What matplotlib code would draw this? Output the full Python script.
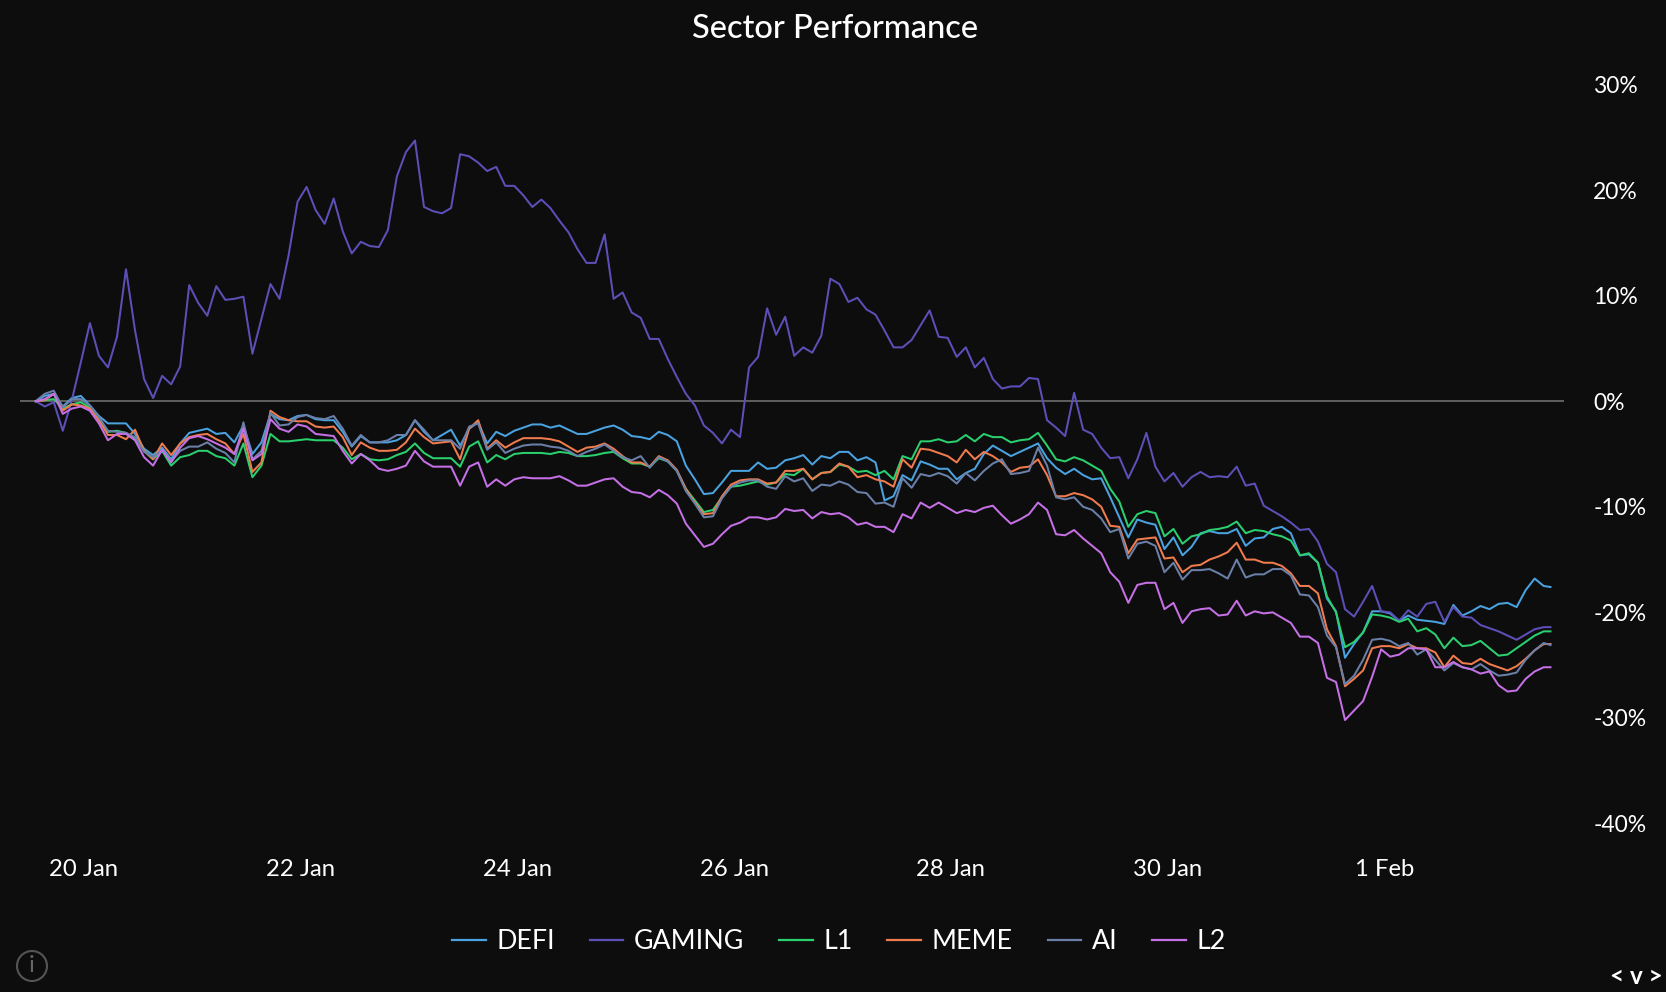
#!/usr/bin/env python3
"""Sector Performance: six crypto sectors, percent change, 2-hourly points."""

import matplotlib
matplotlib.use('Agg')
import matplotlib.pyplot as plt
from matplotlib.patches import Circle
import numpy as np

plt.rcParams['font.family'] = ['Lato', 'DejaVu Sans']

DEFI = [0, 0.5, 0.7, -0.5, 0.3, 0.5, -0.4, -1.4, -2.1, -2.1, -2.1, -3.1, -4.5, -5.1, -4.4, -5.5, -4, -3, -2.8, -2.6,
        -3.1, -3, -3.9, -2.3, -5, -3.9, -1.2, -1.7, -1.8, -1.4, -1.3, -1.7, -1.8, -1.8, -2.9, -4.3, -3.3, -3.9, -3.9, -3.9,
        -3.7, -3.2, -1.8, -2.9, -3.7, -3.2, -2.7, -4.2, -2.6, -2, -4, -2.9, -3.3, -2.8, -2.5, -2.2, -2.2, -2.5, -2.3, -2.7,
        -3.1, -3.1, -2.8, -2.5, -2.3, -2.7, -3.3, -3.4, -3.6, -2.9, -3.2, -3.8, -6.1, -7.4, -8.8, -8.7, -7.7, -6.6, -6.6, -6.6,
        -5.8, -6.4, -6.3, -5.6, -5.4, -5.1, -6, -5.2, -5.4, -4.8, -4.8, -5.6, -5.3, -5.8, -9.4, -9, -7, -7.5, -5.7, -6,
        -6.4, -6.4, -7.4, -6.8, -6.4, -5, -4.2, -4.7, -5.2, -4.8, -4.4, -4, -5.4, -6.3, -6.9, -6.4, -7, -7.4, -7.3, -9.1,
        -11, -12.9, -11.2, -11.5, -11.7, -14, -12.9, -14.6, -13.8, -12.5, -12.3, -12.5, -12.5, -12.1, -13.7, -13, -12.9, -12.1, -11.9, -12.5,
        -14.6, -14.5, -15.3, -18.7, -19.9, -24.3, -23, -21.9, -19.9, -19.9, -20.1, -20.8, -20.3, -20.7, -20.8, -20.9, -21.1, -19.3, -20.3, -19.9,
        -19.4, -19.7, -19.2, -19.1, -19.5, -17.9, -16.8, -17.5, -17.6]

GAMING = [0, -0.5, -0.1, -2.8, 0.1, 3.7, 7.4, 4.3, 3.2, 6.1, 12.5, 6.7, 2.1, 0.3, 2.4, 1.6, 3.3, 11, 9.3, 8.1,
          10.9, 9.6, 9.7, 9.9, 4.5, 7.8, 11.1, 9.7, 13.8, 18.9, 20.3, 18.1, 16.8, 19.2, 16.1, 14, 15.1, 14.7, 14.6, 16.2,
          21.3, 23.6, 24.7, 18.4, 18, 17.8, 18.3, 23.4, 23.2, 22.6, 21.8, 22.2, 20.4, 20.4, 19.5, 18.4, 19.1, 18.3, 17.1, 16,
          14.4, 13.1, 13.1, 15.8, 9.7, 10.3, 8.4, 7.9, 5.9, 5.9, 4, 2.3, 0.7, -0.4, -2.3, -3, -4, -2.7, -3.4, 3.2,
          4.2, 8.8, 6.3, 8, 4.3, 5.1, 4.6, 6.2, 11.6, 11.1, 9.4, 9.8, 8.7, 8.2, 6.7, 5.1, 5.1, 5.8, 7.2, 8.6,
          6.1, 6, 4.2, 5.1, 3.2, 4.1, 2.1, 1.2, 1.4, 1.4, 2.2, 2.1, -1.8, -2.5, -3.3, 0.8, -2.7, -3.1, -4.4, -5.4,
          -5.3, -7.3, -5.5, -3, -6.2, -7.6, -6.8, -8.1, -7.2, -6.7, -7.2, -7.1, -7.2, -6.2, -8, -7.8, -9.9, -10.4, -10.9, -11.5,
          -12.2, -12.1, -13.3, -15.4, -16.2, -19.7, -20.4, -19, -17.5, -19.9, -20, -20.8, -19.8, -20.4, -19.2, -19, -20.9, -19.5, -20.4, -20.5,
          -21.2, -21.5, -21.8, -22.2, -22.6, -22.1, -21.6, -21.4, -21.4]

L1 = [0, 0.1, 0.2, -0.7, -0.3, -0.1, -0.6, -1.7, -2.9, -2.8, -3, -3.6, -4.7, -5.5, -4.7, -6.1, -5.3, -5.1, -4.7, -4.7,
      -5.2, -5.4, -6.1, -4, -7.2, -6.1, -3.1, -3.8, -3.8, -3.7, -3.6, -3.7, -3.7, -3.7, -4.4, -5.5, -5, -5.5, -5.6, -5.5,
      -5.1, -4.8, -4, -4.9, -5.4, -5.4, -5.4, -6.2, -4.3, -3.8, -5.8, -5.1, -5.5, -5, -4.9, -4.9, -4.9, -5, -4.8, -4.9,
      -5.2, -5.2, -5.1, -4.9, -4.8, -5.4, -5.9, -5.9, -6.2, -5.4, -5.7, -6.6, -8.3, -9.4, -10.5, -10.3, -9.1, -8.1, -8, -7.8,
      -7.6, -7.9, -7.7, -6.9, -7, -6.4, -7.4, -6.8, -6.7, -6, -6.2, -6.7, -6.6, -7, -6.6, -7.4, -5.2, -5.5, -3.8, -3.8,
      -3.6, -3.9, -3.8, -3.2, -3.8, -3.1, -3.4, -3.4, -3.9, -3.7, -3.6, -3, -4.2, -5.5, -5.7, -5.3, -5.6, -6.1, -6.6, -8.3,
      -9.5, -11.9, -10.7, -10.4, -10.6, -12.8, -12.1, -13.5, -12.8, -12.6, -12.2, -12.1, -11.9, -11.4, -12.5, -12.2, -12.3, -12.6, -12.8, -13.2,
      -14.6, -14.4, -15.3, -18.5, -20, -23.3, -22.8, -21.9, -20.2, -20.3, -20.5, -20.9, -20.6, -21.8, -21.5, -22.1, -23.4, -22.4, -23.2, -23.1,
      -22.7, -23.4, -24.1, -24, -23.4, -22.8, -22.2, -21.8, -21.8]

MEME = [0, 0.1, 0.7, -0.9, -0.3, -0.4, -0.7, -1.8, -3.2, -3.2, -3.6, -2.7, -4.7, -5.5, -4, -5.1, -4, -3.4, -3.2, -3.1,
        -3.6, -4, -5, -3.1, -6.7, -5.8, -0.9, -1.5, -1.8, -1.9, -1.9, -2.4, -2.5, -2.4, -3.4, -5.1, -3.9, -4.4, -4.7, -4.7,
        -4.6, -3.9, -2.6, -3.4, -4, -3.9, -3.8, -5.5, -2.6, -1.8, -4.5, -3.7, -4.4, -3.9, -3.5, -3.5, -3.5, -3.6, -3.8, -4.3,
        -4.8, -4.4, -4.3, -4, -4.5, -5.2, -5.8, -5.8, -6.2, -5.2, -5.6, -6.5, -8.3, -9.6, -10.7, -10.6, -9, -7.9, -7.5, -7.4,
        -7.4, -7.8, -7.7, -6.6, -6.6, -6.4, -7.4, -6.8, -6.7, -5.9, -6.2, -7.2, -7, -7.4, -7.6, -8.1, -5.5, -6.3, -4.5, -4.6,
        -4.9, -5.2, -5.8, -4.6, -5.5, -4.8, -5.2, -5.8, -6.7, -6.3, -6.2, -5.5, -7, -9, -9, -8.7, -8.9, -9.3, -10, -11.8,
        -11.9, -14.4, -13.1, -13, -12.9, -14.9, -14.8, -16.2, -15.6, -15.5, -15, -14.7, -14.3, -13.4, -15, -15, -15.3, -15.3, -15.6, -16.3,
        -17.5, -17.5, -18.2, -21.6, -23.2, -27, -26.3, -25.5, -23.4, -23.2, -23.2, -23.4, -23, -23.4, -23.4, -23.8, -25.2, -24.1, -24.8, -24.9,
        -24.4, -24.9, -25.2, -25.5, -25.1, -24.4, -23.6, -23, -23]

AI = [0, 0.7, 1, -0.6, 0.2, 0.2, -0.4, -1.5, -2.8, -2.9, -3, -3.4, -4.8, -5.3, -4.6, -5.7, -4.7, -4.3, -4.3, -3.9,
      -4.5, -4.9, -5.8, -2, -5.5, -4.7, -1.1, -2.3, -2.2, -1.5, -1.3, -1.6, -1.7, -1.4, -2.6, -4.2, -3.2, -3.9, -3.9, -3.7,
      -3.2, -3.2, -1.8, -2.7, -3.7, -3.7, -3.7, -4.5, -2.4, -2.1, -4.6, -3.9, -4.9, -4.5, -4.2, -4.1, -4.1, -4.3, -4.4, -4.7,
      -5.2, -4.8, -4.5, -4.1, -4.7, -5.3, -5.6, -5.2, -6.3, -5.3, -5.7, -6.6, -8.5, -9.7, -11, -10.9, -9.2, -8.1, -7.7, -7.5,
      -7.5, -8.1, -8.3, -7.1, -7.6, -7.3, -8.5, -7.9, -8, -7.6, -7.9, -8.6, -8.7, -9.7, -9.6, -10, -7.3, -8.2, -6.9, -7.1,
      -6.8, -7.1, -7.8, -6.8, -7.5, -6.6, -5.9, -5.5, -6.9, -6.8, -6.6, -4.4, -6.1, -9.1, -9.3, -9.1, -10, -10.3, -11.1, -12.4,
      -12.1, -14.9, -13.5, -13.3, -13.7, -16.2, -15.3, -16.9, -16, -16, -15.9, -16.3, -16.8, -15, -16.7, -16.4, -16.4, -15.9, -15.9, -16.5,
      -18.3, -18.4, -19.5, -22.2, -23.3, -26.8, -26, -24.5, -22.6, -22.5, -22.7, -23.2, -22.9, -24, -23.5, -24.5, -25.5, -24.8, -25.2, -25.4,
      -24.9, -25.5, -26, -25.9, -25.7, -24.5, -23.6, -22.9, -23.1]

L2 = [0, 0.2, 0.7, -1.2, -0.7, -0.5, -0.9, -2.1, -3.7, -3.1, -3.1, -3.7, -5.3, -6.1, -4.6, -5.8, -4.4, -3.5, -3.3, -3.6,
      -4, -4.4, -5, -2.6, -5.6, -5, -1.7, -2.6, -2.9, -2.2, -2.4, -3.1, -3.2, -3.3, -4.7, -5.9, -5, -5.6, -6.4, -6.6,
      -6.4, -6.1, -4.7, -5.7, -6.2, -6.2, -6.2, -8, -6.2, -5.8, -8.1, -7.4, -8, -7.4, -7.2, -7.3, -7.3, -7.3, -7.1, -7.5,
      -8, -8, -7.7, -7.4, -7.3, -8.1, -8.6, -8.7, -9.1, -8.4, -8.9, -9.7, -11.6, -12.7, -13.8, -13.5, -12.6, -11.8, -11.5, -11,
      -11, -11.2, -11, -10.2, -10.4, -10.3, -11.1, -10.5, -10.7, -10.6, -11, -11.7, -11.5, -11.9, -11.9, -12.4, -10.7, -11.1, -9.6, -10.1,
      -9.6, -10.1, -10.6, -10.3, -10.5, -10.1, -9.9, -10.8, -11.6, -11.2, -10.7, -9.6, -10.3, -12.6, -12.7, -12.2, -13, -13.7, -14.4, -16.2,
      -17.1, -19.1, -17.4, -17.2, -17.2, -19.7, -19.1, -21, -19.9, -19.7, -19.6, -20.3, -20.2, -18.9, -20.3, -19.9, -20.1, -20, -20.5, -21,
      -22.3, -22.3, -22.9, -26.2, -26.6, -30.2, -29.3, -28.4, -26.1, -23.5, -24.2, -24, -23.4, -23.4, -23.5, -25.2, -25.2, -24.7, -25.2, -25.4,
      -25.8, -25.6, -26.9, -27.5, -27.4, -26.3, -25.6, -25.2, -25.2]

SERIES = ['DEFI', 'GAMING', 'L1', 'MEME', 'AI', 'L2']
VALUES = [DEFI, GAMING, L1, MEME, AI, L2]
COLORS = ['#4aa3e0', '#5c50b8', '#2bd06e', '#f07c4e', '#6a80a8', '#c670e6']

# sample index of each day label, 12 samples a day
X_TICKS = [5.35, 29.35, 53.35, 77.35, 101.35, 125.35, 149.35]
X_LABELS = ['20 Jan', '22 Jan', '24 Jan', '26 Jan', '28 Jan', '30 Jan', '1 Feb']
Y_TICKS = [30, 20, 10, 0, -10, -20, -30, -40]

W, H = 1666, 992
BG = '#0d0d0e'

fig = plt.figure(figsize=(W / 100, H / 100), dpi=100, facecolor=BG)
ax = fig.add_axes([20 / W, 1 - 823.5 / H, 1544 / W, 739 / H], facecolor=BG)

for name, vals, color in zip(SERIES, VALUES, COLORS):
    x = np.arange(len(vals), dtype=float)
    x[-1] = len(vals) - 1.25  # last sample is a partial period
    ax.plot(x, vals, color=color, lw=1.45, label=name)

ax.axhline(0, color='#6e6e6e', lw=1.2, zorder=1)

ax.set_xlim(-1.74, 169.25)
ax.set_ylim(-40, 30)
ax.set_xticks(X_TICKS, X_LABELS)
ax.yaxis.tick_right()
ax.set_yticks(Y_TICKS, [f'{v}%' for v in Y_TICKS])
ax.tick_params(axis='x', length=0, pad=25.5, labelsize=17.2, labelcolor='white')
ax.tick_params(axis='y', length=0, pad=21, labelsize=16.5, labelcolor='white')
for spine in ax.spines.values():
    spine.set_visible(False)

fig.text(835 / W, 1 - 29 / H, 'Sector Performance', color='white', fontsize=23.5,
         fontweight='medium', ha='center', va='center')

leg = fig.legend(loc='center', bbox_to_anchor=(839 / W, 1 - 941.5 / H), ncols=6, frameon=False,
                 fontsize=19.3, labelcolor='white', handlelength=1.25, handletextpad=0.4,
                 columnspacing=1.3)
for line in leg.get_lines():
    line.set_linewidth(1.6)

# info badge and scroll arrows at the bottom corners
fig.add_artist(Circle((32, H - 966), 15, transform=None, fill=False,
                      edgecolor='#555555', lw=1.5))
fig.text(32 / W, 1 - 966 / H, 'i', color='#666666', fontsize=17, ha='center', va='center')
fig.text(1636 / W, 1 - 977 / H, '< v >', color='white', fontsize=17.5, fontweight='bold',
         ha='center', va='center')

fig.savefig('out.png', dpi=100, facecolor=BG)
plt.close(fig)
